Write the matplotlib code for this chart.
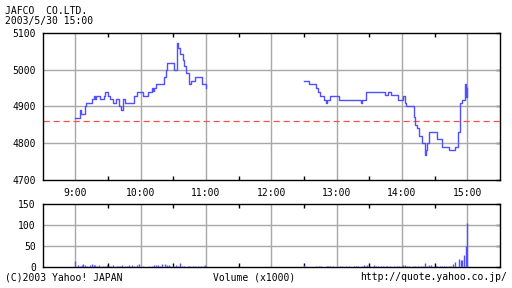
import numpy as np
import matplotlib
matplotlib.use("Agg")
import matplotlib.pyplot as plt

# ---- data ----
am_times = ["9:00","9:04","9:05","9:09","9:10","9:15","9:17","9:18","9:19","9:23","9:26","9:27","9:30","9:32",
            "9:35","9:37","9:40","9:42","9:44","9:46","9:54","9:57","10:02","10:07","10:10","10:11","10:12",
            "10:14","10:21","10:23","10:24","10:31","10:33","10:34","10:36","10:39","10:40","10:42","10:44",
            "10:46","10:50","10:56","11:00"]
am_price = [4869,4889,4880,4900,4910,4919,4928,4919,4928,4919,4928,4940,4928,4919,
            4910,4919,4900,4889,4919,4910,4928,4940,4928,4940,4950,4942,4950,
            4960,4980,5000,5018,5000,5071,5059,5041,5027,5010,4991,4960,
            4970,4980,4960,4951]
pm_times = ["12:30","12:35","12:41","12:43","12:45","12:48","12:50","12:51","12:54","13:02","13:22","13:23",
            "13:27","13:44","13:47","13:50","13:56","14:01","14:03","14:04","14:11","14:12","14:14","14:16",
            "14:18","14:21","14:22","14:23","14:25","14:32","14:37","14:43","14:49","14:51","14:53","14:55",
            "14:58","14:59","15:00"]
pm_price = [4970,4960,4950,4940,4928,4918,4910,4918,4928,4918,4910,4918,
            4940,4930,4940,4930,4918,4928,4910,4900,4870,4850,4840,4819,
            4800,4769,4781,4800,4830,4810,4790,4781,4790,4830,4910,4918,
            4960,4925,4950]
prev_close = 4860

vol_times = ["9:00","9:02","9:04","9:06","9:07","9:09","9:11","9:13","9:15","9:17","9:18","9:20","9:22","9:25",
             "9:27","9:29","9:31","9:33","9:35","9:38","9:39","9:41","9:43","9:46","9:47","9:49","9:52","9:54",
             "9:57","9:58","10:02","10:08","10:10","10:12","10:14","10:16","10:18","10:20","10:22","10:24",
             "10:26","10:27","10:30","10:32","10:34","10:36","10:38","10:40","10:43","10:45","10:48","10:50",
             "10:53","10:55","10:58","10:59",
             "12:30","12:41","12:44","12:46","12:51","12:52","12:54","12:57","13:03","13:05","13:09","13:11",
             "13:16","13:18","13:20","13:23","13:25","13:26","13:28","13:31","13:34","13:36","13:38","13:41",
             "13:43","13:45","13:46","13:49","13:53","13:55","13:57","14:01","14:03","14:05","14:06","14:10",
             "14:12","14:15","14:17","14:19","14:21","14:23","14:25","14:27","14:31","14:32","14:35","14:37",
             "14:39","14:40","14:43","14:45","14:47","14:49","14:52","14:54","14:55","14:57","14:59","15:00"]
vol_vals = [15,5,4,5,7,6,4,5,7,5,6,4,5,4,
            3,6,4,4,5,4,4,4,5,4,3,5,5,4,
            5,7,4,3,4,5,6,6,4,9,7,6,
            5,3,3,6,4,10,4,3,2,4,3,3,
            2,4,3,6,
            6,2,3,2,4,4,2,2,3,2,3,2,
            3,2,2,3,6,4,5,2,6,3,4,2,
            2,2,2,2,4,4,2,5,6,4,4,2,
            2,2,3,2,10,4,5,6,2,2,3,2,
            3,2,2,4,7,13,20,18,18,29,50,106]

def to_hours(ts):
    out = []
    for t in ts:
        h, m = t.split(":")
        out.append(int(h) + int(m) / 60.0)
    return np.array(out)

hour_ticks = [9, 10, 11, 12, 13, 14, 15]
hour_labels = ["9:00", "10:00", "11:00", "12:00", "13:00", "14:00", "15:00"]
price_ticks = [4700, 4800, 4900, 5000, 5100]
vol_ticks = [0, 50, 100, 150]

# ---- style ----
LINE = "#5050ff"
GRID = "#a8a8a8"
RED = "#ff5050"
FONT = "DejaVu Sans Mono"
FS = 7.0
plt.rcParams["font.family"] = FONT

fig = plt.figure(figsize=(5.12, 2.88), dpi=100)
fig.patch.set_facecolor("white")

W, H = 512.0, 288.0
def axrect(l, t, r, b):
    return [l / W, 1 - b / H, (r - l) / W, (b - t) / H]

ax = fig.add_axes(axrect(42.7, 32.7, 500, 180))
axv = fig.add_axes(axrect(42.7, 204, 500, 267.3))

for a in (ax, axv):
    a.set_xlim(8.5, 15.5)
    for s in a.spines.values():
        s.set_color("black")
        s.set_linewidth(1.0)
    a.set_xticks(hour_ticks)
    a.set_xticks([9.5, 10.5, 11.5, 12.5, 13.5, 14.5], minor=True)
    a.tick_params(axis="x", which="major", length=0, labelsize=FS, pad=6)
    a.tick_params(axis="x", which="minor", direction="in", length=3, width=1,
                  color="black", top=True, bottom=True)
    a.tick_params(axis="y", which="major", direction="in", length=3, width=1,
                  color="black", left=False, right=True, labelsize=FS, pad=5)
    a.set_axisbelow(True)

# price panel
ax.set_ylim(4700, 5100)
ax.set_yticks(price_ticks)
ax.set_yticklabels([str(v) for v in price_ticks])
ax.set_xticklabels(hour_labels)
for h in hour_ticks:
    ax.axvline(h, color=GRID, lw=1.0, zorder=1)
for p in [4800, 4900, 5000]:
    ax.axhline(p, color=GRID, lw=1.0, zorder=1)
ax.axhline(prev_close, color=RED, lw=0.9, ls=(0, (5, 3)), zorder=2)

ax.plot(to_hours(am_times), am_price, drawstyle="steps-post", color=LINE, lw=1.0, zorder=3)
ax.plot(to_hours(pm_times), pm_price, drawstyle="steps-post", color=LINE, lw=1.0, zorder=3)

# volume panel
axv.set_ylim(0, 150)
axv.set_yticks(vol_ticks)
axv.set_yticklabels([str(v) for v in vol_ticks])
axv.tick_params(axis="x", which="major", labelbottom=False)
for h in hour_ticks:
    axv.axvline(h, color=GRID, lw=1.0, zorder=1)
for v in [50, 100]:
    axv.axhline(v, color=GRID, lw=1.0, zorder=1)
axv.vlines(to_hours(vol_times), 0, vol_vals, color=LINE, lw=1.0, zorder=3)

# texts
fig.text(5 / W, 1 - 10.5 / H, "JAFCO  CO.LTD.", fontsize=FS, va="center", ha="left")
fig.text(5 / W, 1 - 21 / H, "2003/5/30 15:00", fontsize=FS, va="center", ha="left")
fig.text(5 / W, 1 - 277 / H, "(C)2003 Yahoo! JAPAN", fontsize=FS, va="center", ha="left")
fig.text(213 / W, 1 - 277 / H, "Volume (x1000)", fontsize=FS, va="center", ha="left")
fig.text(507 / W, 1 - 277 / H, "http://quote.yahoo.co.jp/", fontsize=FS, va="center", ha="right")

fig.savefig("out.png", dpi=100, facecolor="white")
